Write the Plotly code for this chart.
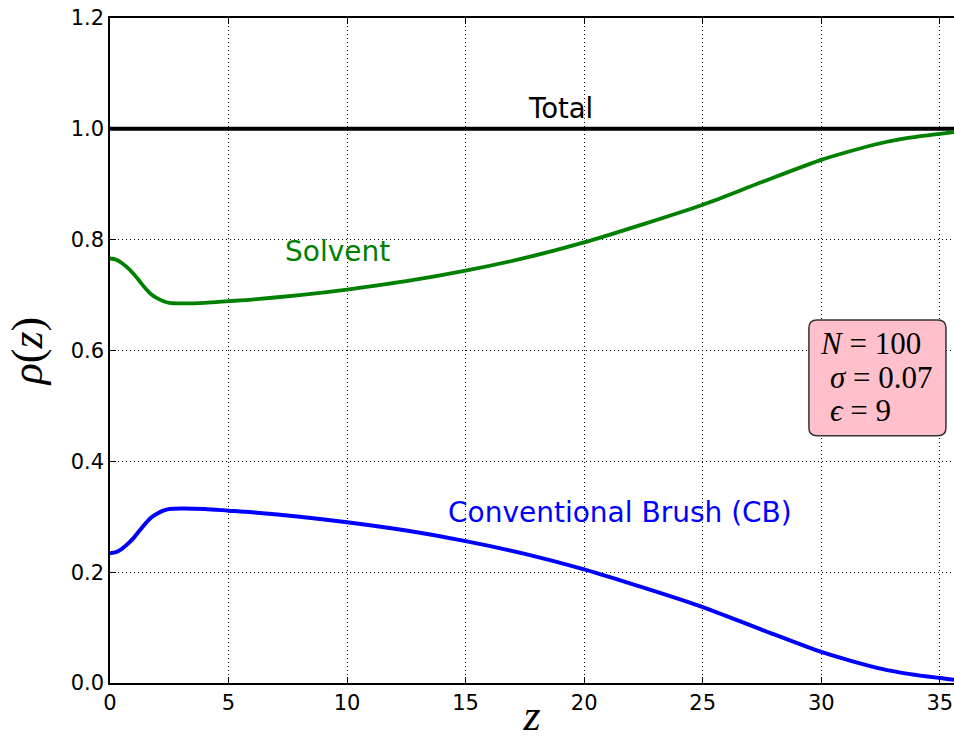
import plotly.graph_objects as go

# Density profiles rho(z) across the film
z = [0, 0.25, 0.5, 0.75, 1, 1.25, 1.5, 1.75, 2, 2.25, 2.5, 3, 4, 5, 6, 8,
     10, 12.5, 15, 17.5, 20, 22.5, 25, 27.5, 30, 31.25, 32.5, 33.75, 35, 35.6]
brush = [0.234, 0.236, 0.242, 0.251, 0.262, 0.275, 0.288, 0.299, 0.306,
         0.311, 0.314, 0.315, 0.314, 0.311, 0.308, 0.300, 0.290, 0.275,
         0.256, 0.233, 0.205, 0.172, 0.137, 0.096, 0.056, 0.040, 0.026,
         0.016, 0.009, 0.006]
solvent = [0.766, 0.764, 0.758, 0.749, 0.738, 0.725, 0.712, 0.701, 0.694,
           0.689, 0.686, 0.685, 0.686, 0.689, 0.692, 0.700, 0.710, 0.725,
           0.744, 0.767, 0.795, 0.828, 0.863, 0.904, 0.944, 0.960, 0.974,
           0.984, 0.991, 0.994]
total = [1.0] * len(z)

x_ticks = [0, 5, 10, 15, 20, 25, 30, 35]
y_ticks = [0.0, 0.2, 0.4, 0.6, 0.8, 1.0, 1.2]
y_tick_text = ["0.0", "0.2", "0.4", "0.6", "0.8", "1.0", "1.2"]

params = ["<i>N</i> = 100", "<i>σ</i> = 0.07", "<i>ϵ</i> = 9"]

fig = go.Figure()
fig.add_trace(go.Scatter(x=z, y=total, mode="lines",
                         line=dict(color="black", width=4)))
fig.add_trace(go.Scatter(x=z, y=solvent, mode="lines",
                         line=dict(color="#008000", width=3.8, shape="spline", smoothing=0.8)))
fig.add_trace(go.Scatter(x=z, y=brush, mode="lines",
                         line=dict(color="#0000FF", width=4, shape="spline", smoothing=0.8)))

sans = "DejaVu Sans"
serif = "Liberation Serif"

fig.add_annotation(x=19.0, y=1.0, yshift=3, text="Total", showarrow=False,
                   xanchor="center", yanchor="bottom",
                   font=dict(family=sans, size=27.5, color="black"))
fig.add_annotation(x=9.6, y=0.778, text="Solvent", showarrow=False,
                   xanchor="center", yanchor="middle",
                   font=dict(family=sans, size=28, color="#008000"))
fig.add_annotation(x=21.5, y=0.307, text="Conventional Brush (CB)", showarrow=False,
                   xanchor="center", yanchor="middle",
                   font=dict(family=sans, size=28, color="#0000FF"))

# Parameter box with rounded corners
x0, x1, y0, y1 = 29.48, 35.26, 0.446, 0.655
rx, ry = 0.34, 0.0145
path = (f"M {x0+rx},{y0} L {x1-rx},{y0} Q {x1},{y0} {x1},{y0+ry} "
        f"L {x1},{y1-ry} Q {x1},{y1} {x1-rx},{y1} L {x0+rx},{y1} "
        f"Q {x0},{y1} {x0},{y1-ry} L {x0},{y0+ry} Q {x0},{y0} {x0+rx},{y0} Z")
fig.add_shape(type="path", path=path, xref="x", yref="y",
              fillcolor="rgba(255,192,203,1)", line=dict(color="#333333", width=1.5),
              layer="above")

param_x = [29.85, 30.3, 30.3]
param_y = [0.612, 0.551, 0.491]
for px, py, t in zip(param_x, param_y, params):
    fig.add_annotation(x=px, y=py, text=t, showarrow=False,
                       xanchor="left", yanchor="middle",
                       font=dict(family=serif, size=31, color="black"))

fig.update_layout(
    width=954, height=740,
    margin=dict(l=110, r=0, t=18, b=57),
    paper_bgcolor="white", plot_bgcolor="white",
    showlegend=False,
    xaxis=dict(range=[0, 35.6], tickvals=x_ticks, automargin=False,
               ticks="inside", ticklen=6, tickwidth=1, tickcolor="black",
               showline=True, linecolor="black", linewidth=1.5, mirror="ticks",
               showgrid=True, gridcolor="black", gridwidth=1, griddash="1px,3px",
               zeroline=False,
               tickfont=dict(family=sans, size=21, color="black"),
               title=dict(text="<i>z</i>", font=dict(family=serif, size=44, color="black"),
                          standoff=0)),
    yaxis=dict(range=[0, 1.2], tickvals=y_ticks, ticktext=y_tick_text, automargin=False,
               ticks="inside", ticklen=6, tickwidth=1, tickcolor="black",
               showline=True, linecolor="black", linewidth=1.5, mirror=False,
               showgrid=True, gridcolor="black", gridwidth=1, griddash="1px,3px",
               zeroline=False,
               tickfont=dict(family=sans, size=21, color="black"),
               title=dict(text="<i>ρ</i>(<i>z</i>)", font=dict(family=serif, size=44, color="black"),
                          standoff=14)),
)

fig.write_html("out.html")
